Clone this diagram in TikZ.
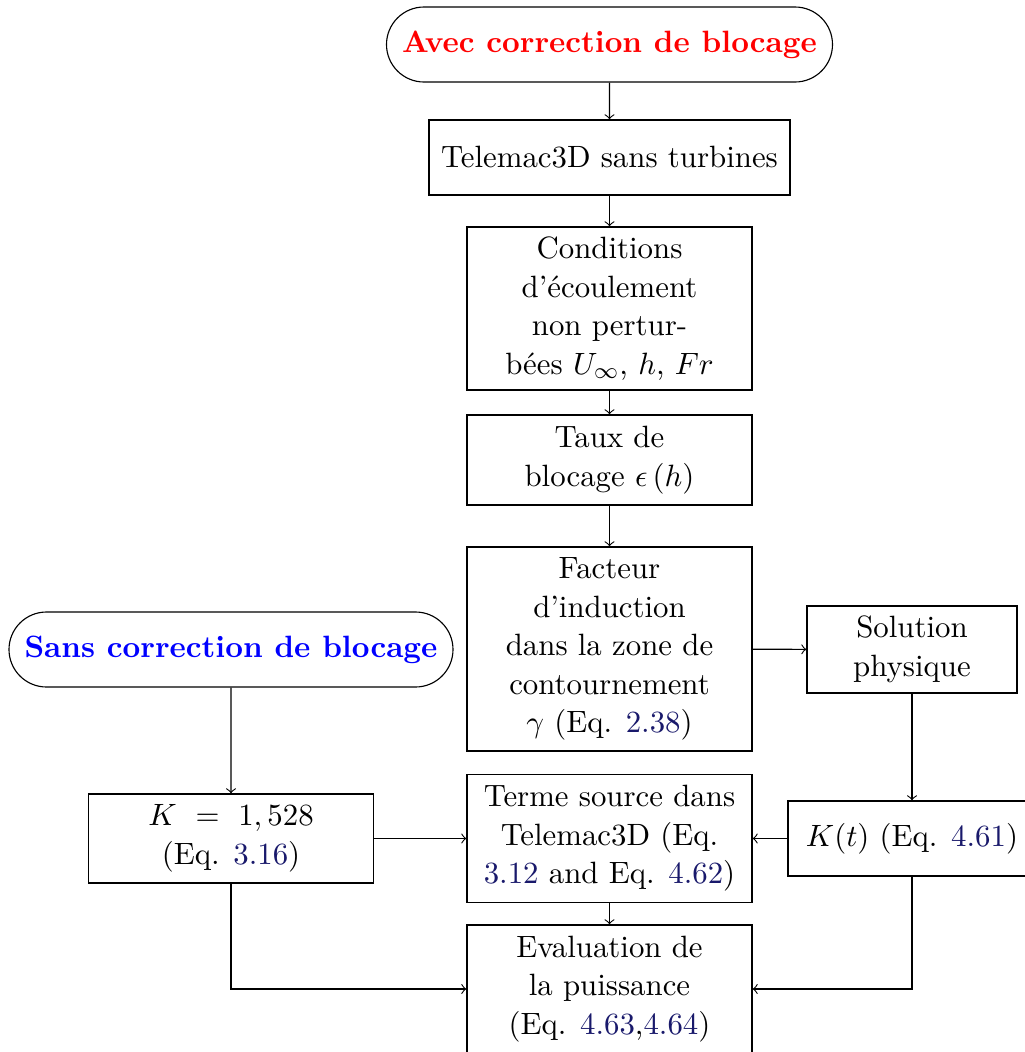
\documentclass[tikz,border=0pt]{standalone}
\usetikzlibrary{shapes.misc}
\definecolor{eqc}{rgb}{0.1,0.1,0.42}
\newcommand{\eqr}[1]{\textcolor{eqc}{#1}}
\begin{document}
\begin{tikzpicture}[x=0.3552pt,y=-0.3552pt,
  txt/.style={font=\fontsize{10.95}{13.7}\selectfont},
  box/.style={txt,draw,rectangle,inner sep=0pt,align=center},
  term/.style={txt,draw,rounded rectangle,inner sep=0pt,align=center,font=\fontsize{10.95}{13.7}\selectfont\bfseries},
  arr/.style={->}]
\useasboundingbox (0,0) rectangle (1025,1052);
\node[term,text=red,minimum width={446*0.3552pt},minimum height={75*0.3552pt}] (avec) at (609.5,44.5) {Avec correction de blocage};
\node[box,minimum width={361*0.3552pt},minimum height={75*0.3552pt}] (tele) at (609.5,157.5) {Telemac3D sans turbines};
\node[box,minimum width={285*0.3552pt},minimum height={163*0.3552pt}] (cond) at (609.5,308.5) {Conditions\\d'écoulement\\non pertur-\\bées $U_\infty$, $h$, $Fr$};
\node[box,minimum width={285*0.3552pt},minimum height={90*0.3552pt}] (taux) at (609.5,460) {Taux de\\blocage $\epsilon\left(h\right)$};
\node[box,minimum width={285*0.3552pt},minimum height={204*0.3552pt}] (fact) at (609.5,649) {Facteur\\d'induction\\dans la zone de\\contournement\\$\gamma$ (Eq. \eqr{2.38})};
\node[box,minimum width={210*0.3552pt},minimum height={87*0.3552pt}] (sol) at (912,649.5) {Solution\\physique};
\node[term,text=blue,minimum width={444*0.3552pt},minimum height={75*0.3552pt}] (sans) at (231,649.5) {Sans correction de blocage};
\node[box,minimum width={285*0.3552pt},minimum height={89*0.3552pt}] (kc) at (231,838.5) {$K\ =\ 1,528$\\(Eq. \eqr{3.16})};
\node[box,minimum width={285*0.3552pt},minimum height={128*0.3552pt}] (terme) at (609.5,838.5) {Terme source dans\\Telemac3D (Eq.\\\eqr{3.12} and Eq. \eqr{4.62})};
\node[box,minimum width={248*0.3552pt},minimum height={75*0.3552pt}] (kt) at (912,838.5) {$K(t)$ (Eq. \eqr{4.61})};
\node[box,minimum width={285*0.3552pt},minimum height={128*0.3552pt}] (eval) at (609.5,989) {Evaluation de\\la puissance\\(Eq. \eqr{4.63},\eqr{4.64})};
\draw[arr] (avec) -- (tele);
\draw[arr] (tele) -- (cond);
\draw[arr] (cond) -- (taux);
\draw[arr] (taux) -- (fact);
\draw[arr] (fact) -- (sol);
\draw[arr] (sol) -- (kt);
\draw[arr] (kt) -- (terme);
\draw[arr] (sans) -- (kc);
\draw[arr] (kc) -- (terme);
\draw[arr] (terme) -- (eval);
\draw[arr] (kc.south) |- (eval.west);
\draw[arr] (kt.south) |- (eval.east);
\end{tikzpicture}
\end{document}
